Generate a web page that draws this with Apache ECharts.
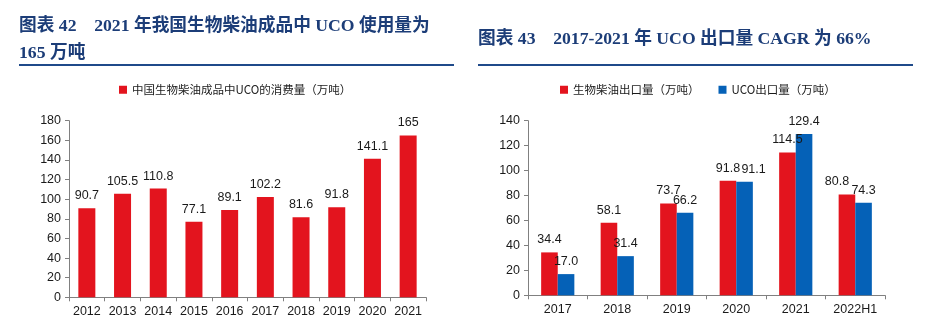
<!DOCTYPE html>
<html><head><meta charset="utf-8">
<script src="https://cdn.jsdelivr.net/npm/echarts@6/dist/echarts.min.js"></script>
<style>html,body{margin:0;padding:0;background:#fff}#c{width:930px;height:321px}</style>
</head><body><div id="c"></div>
<script>
const leftCategories = ['2012','2013','2014','2015','2016','2017','2018','2019','2020','2021'];
const leftValues = [90.7,105.5,110.8,77.1,89.1,102.2,81.6,91.8,141.1,165];
const leftLabels = ['90.7','105.5','110.8','77.1','89.1','102.2','81.6','91.8','141.1','165'];
const rightCategories = ['2017','2018','2019','2020','2021','2022H1'];
const biodieselExport = [34.4,58.1,73.7,91.8,114.5,80.8];
const ucoExport = [17.0,31.4,66.2,91.1,129.4,74.3];
const leftSeriesName = '中国生物柴油成品中UCO的消费量（万吨）';
const rightSeriesNames = ['生物柴油出口量（万吨）','UCO出口量（万吨）'];
const leftTitle = '图表 42    2021 年我国生物柴油成品中 UCO 使用量为\n165 万吨';
const rightTitle = '图表 43    2017-2021 年 UCO 出口量 CAGR 为 66%';

const RED = '#E3141E', BLUE = '#0561B7', NAVY = '#1C3D78';
const axisColor = '#808080', txt = '#1a1a1a';
const lblFont = 'Liberation Sans, Arial, sans-serif';
const titleFont = 'Liberation Serif, Noto Sans CJK SC, serif';

const chart = echarts.init(document.getElementById('c'), null, {renderer:'canvas'});
function yAxis(gi, max){
  return {type:'value', gridIndex:gi, min:0, max:max, interval:20,
    axisLine:{show:true, lineStyle:{color:axisColor}},
    axisTick:{show:true, length:4, lineStyle:{color:axisColor}},
    splitLine:{show:false},
    axisLabel:{color:txt, fontSize:12.5, fontFamily:lblFont, margin:8}};
}
function xAxis(gi, cats){
  return {type:'category', gridIndex:gi, data:cats,
    axisLine:{show:true, lineStyle:{color:axisColor}},
    axisTick:{show:true, length:4, lineStyle:{color:axisColor}},
    axisLabel:{color:txt, fontSize:12.5, fontFamily:lblFont, margin:8, interval:0}};
}
const lbl = {show:true, position:'top', distance:6, color:txt, fontSize:12.5, fontFamily:lblFont};
const f1 = p => p.value.toFixed(1);
const redData = biodieselExport.map((v,i)=> i===5 ? {value:v, label:{offset:[-10,0]}} : v);
const blueData = ucoExport.map((v,i)=> i===3 ? {value:v, label:{offset:[9,0]}} : v);
chart.setOption({
  animation:false,
  title:[
    {text:leftTitle, left:19, top:13, padding:0, textStyle:{fontFamily:titleFont, fontWeight:'bold', fontSize:17.7, color:NAVY, lineHeight:27}},
    {text:rightTitle, left:478, top:31, padding:0, textStyle:{fontFamily:titleFont, fontWeight:'bold', fontSize:17.7, color:NAVY}}
  ],
  graphic:[
    {type:'line', shape:{x1:19,y1:65,x2:454,y2:65}, style:{stroke:'#1F4A8A', lineWidth:2}},
    {type:'line', shape:{x1:478,y1:65,x2:913,y2:65}, style:{stroke:'#1F4A8A', lineWidth:2}}
  ],
  legend:[
    {data:[leftSeriesName], left:114, top:79, itemWidth:8, itemHeight:8, icon:'rect', itemGap:19,
     textStyle:{fontSize:11.5, color:txt, fontFamily:'Noto Sans CJK SC, sans-serif'}},
    {data:rightSeriesNames, left:555, top:79, itemWidth:8, itemHeight:8, icon:'rect', itemGap:19,
     textStyle:{fontSize:11.5, color:txt, fontFamily:'Noto Sans CJK SC, sans-serif'}}
  ],
  grid:[
    {left:69, right:504, top:120.7, bottom:23.7},
    {left:528, right:45, top:120.7, bottom:25.7}
  ],
  xAxis:[xAxis(0,leftCategories), xAxis(1,rightCategories)],
  yAxis:[yAxis(0,180), yAxis(1,140)],
  series:[
    {name:leftSeriesName, type:'bar', xAxisIndex:0, yAxisIndex:0, data:leftValues, barWidth:17,
     itemStyle:{color:RED}, label:Object.assign({}, lbl, {formatter:p=>leftLabels[p.dataIndex]})},
    {name:rightSeriesNames[0], type:'bar', xAxisIndex:1, yAxisIndex:1, data:redData, barWidth:16.6, barGap:'0%',
     itemStyle:{color:RED}, label:Object.assign({}, lbl, {formatter:f1})},
    {name:rightSeriesNames[1], type:'bar', xAxisIndex:1, yAxisIndex:1, data:blueData, barWidth:16.6, barGap:'0%',
     itemStyle:{color:BLUE}, label:Object.assign({}, lbl, {formatter:f1})}
  ]
});
</script></body></html>
